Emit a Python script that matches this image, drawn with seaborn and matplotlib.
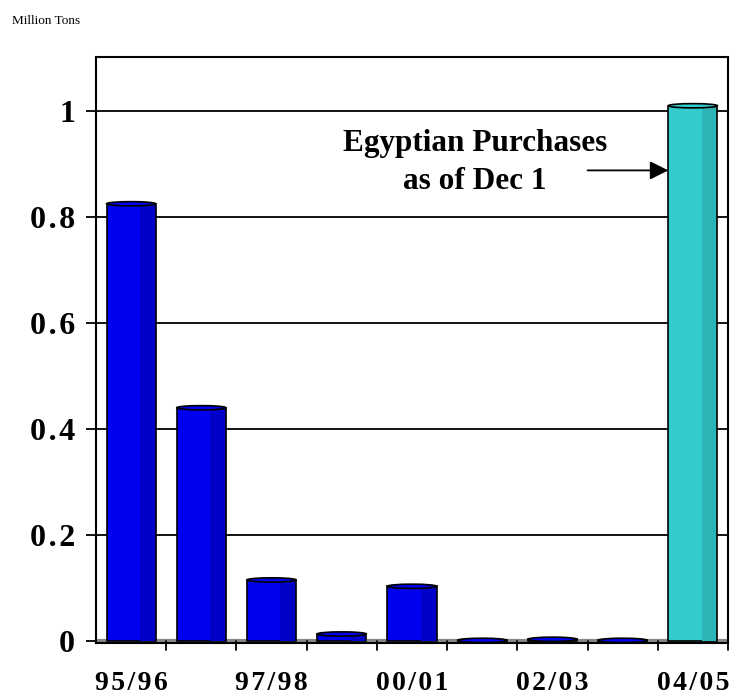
import matplotlib
matplotlib.use("Agg")
import matplotlib.pyplot as plt
import seaborn as sns
import pandas as pd
from matplotlib.patches import Rectangle, Ellipse

seasons = ["95/96", "96/97", "97/98", "98/99", "00/01", "01/02", "02/03", "03/04", "04/05"]
values = [0.825, 0.44, 0.115, 0.013, 0.103, 0.001, 0.003, 0.001, 1.01]
kind = ["past"] * 8 + ["current"]
shown_labels = ["95/96", "", "97/98", "", "00/01", "", "02/03", "", "04/05"]
yticks = [0, 0.2, 0.4, 0.6, 0.8, 1]
ytick_labels = ["0", "0.2", "0.4", "0.6", "0.8", "1"]

df = pd.DataFrame({"season": seasons, "value": values, "kind": kind})

sns.set_style("white")
plt.rcParams["font.family"] = ["Liberation Serif", "DejaVu Serif"]
plt.rcParams["text.color"] = "black"
plt.rcParams["xtick.color"] = "black"
plt.rcParams["ytick.color"] = "black"
plt.rcParams["xtick.labelcolor"] = "black"
plt.rcParams["ytick.labelcolor"] = "black"

HS = "\u200a"


def spaced(s):
    return HS.join(list(s))


fig = plt.figure(figsize=(7.44, 6.97), dpi=100)
ax = fig.add_axes([96 / 744, 1 - 643 / 697, 632 / 744, (643 - 57) / 697])

palette = {"past": "#0000F0", "current": "#33CCCC"}
sns.barplot(data=df, x="season", y="value", hue="kind", palette=palette,
            dodge=False, width=0.7, edgecolor="black", linewidth=1.2,
            legend=False, ax=ax, saturation=1, zorder=3)

# cylinder-like shading using the bars' own geometry
for p in list(ax.patches):
    x0, w, h = p.get_x(), p.get_width(), p.get_height()
    if w <= 0:
        continue
    fc = matplotlib.colors.to_hex(p.get_facecolor())
    dark = "#0000C8" if fc.lower() == "#0000f0" else "#2DB5B5"
    ax.add_patch(Rectangle((x0 + w * 0.68, 0), w * 0.30, h, facecolor=dark,
                           edgecolor="none", zorder=3.5))
    ax.add_patch(Ellipse((x0 + w / 2, h), w, 0.008, facecolor=fc,
                         edgecolor="black", linewidth=1.2, zorder=4))

ax.set_ylim(-0.004, 1.102)
ax.set_xlim(-0.5, len(seasons) - 0.5)
ax.set_yticks(yticks)
ax.set_yticklabels([spaced(t) for t in ytick_labels], fontsize=23, fontweight="bold")
ax.set_xticks(range(len(seasons)))
ax.set_xticklabels([spaced(t) for t in shown_labels], fontsize=20, fontweight="bold")
ax.set_xlabel("")
ax.set_ylabel("")

# gridlines
for yv in yticks[1:]:
    ax.axhline(yv, color="black", linewidth=1.3, zorder=1)
ax.axhline(0, color="#888888", linewidth=3, zorder=2)

ax.tick_params(axis="y", direction="out", length=7, width=1.3, color="black",
               labelcolor="black", pad=8, left=True)
ax.tick_params(axis="x", bottom=False, pad=17, labelcolor="black")
for b in range(1, len(seasons) + 1):
    ax.plot([b - 0.5, b - 0.5], [0, -0.017], color="black", lw=1.3,
            clip_on=False, zorder=5)

for s in ax.spines.values():
    s.set_color("black")
    s.set_linewidth(1.5)

ax.text(4.9, 0.903, "Egyptian Purchases\nas of Dec 1", ha="center", va="center",
        fontsize=22.5, fontweight="bold", linespacing=1.4, color="black", zorder=6)
ax.annotate("", xy=(7.65, 0.888), xytext=(6.5, 0.888),
            arrowprops=dict(arrowstyle="-|>", color="black", lw=1.3,
                            mutation_scale=28, shrinkA=0, shrinkB=0),
            zorder=6)

fig.text(12 / 744, 1 - 27 / 697, "Million Tons", fontsize=9.5, ha="left", va="bottom",
         color="black")

fig.savefig("out.png", dpi=100, facecolor="white")
